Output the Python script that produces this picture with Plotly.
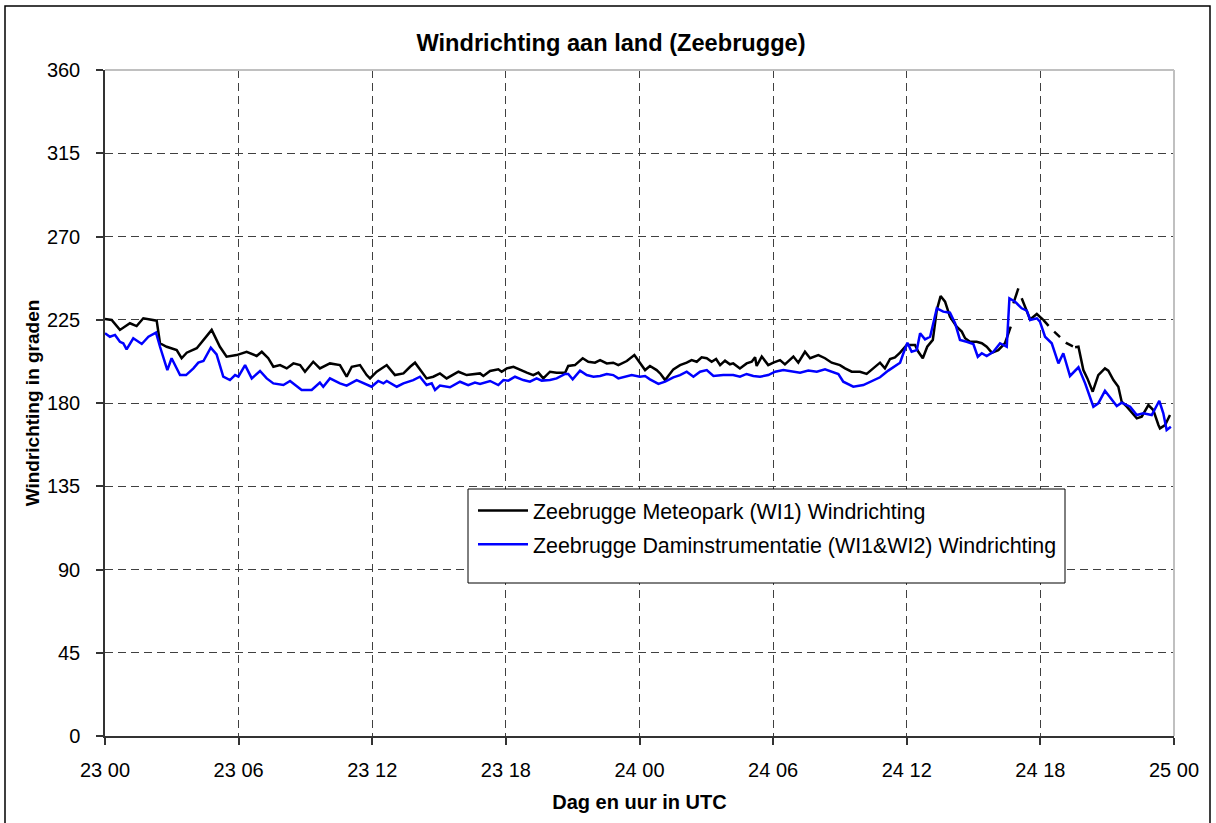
import plotly.graph_objects as go

# ---------------- data ----------------
x_tickvals = [0, 6, 12, 18, 24, 30, 36, 42, 48]
x_ticktext = ["23 00", "23 06", "23 12", "23 18", "24 00", "24 06", "24 12", "24 18", "25 00"]
y_tickvals = [0, 45, 90, 135, 180, 225, 270, 315, 360]

# hours since 23 00 UTC
meteopark_h = [0, 0.30, 0.67, 1.12, 1.42, 1.72, 2.32, 2.47, 2.77, 3.22,
               3.44, 3.67, 4.12, 4.42, 4.79, 5.16, 5.46, 5.91, 6.36, 6.81,
               7.04, 7.33, 7.56, 7.86, 8.16, 8.46, 8.76, 8.98, 9.35, 9.65,
               10.10, 10.55, 10.85, 11.08, 11.45, 11.75, 11.90, 12.20, 12.65, 13.02,
               13.40, 13.70, 13.92, 14.44, 14.74, 15.04, 15.34, 15.87, 16.24, 16.84,
               16.99, 17.29, 17.66, 17.81, 18.04, 18.34, 18.71, 18.94, 19.23, 19.46,
               19.68, 19.98, 20.28, 20.66, 20.80, 21.10, 21.45, 21.70, 22.00, 22.23,
               22.53, 22.82, 23.05, 23.43, 23.77, 24.02, 24.25, 24.47, 24.77, 24.95,
               25.15, 25.52, 25.82, 26.12, 26.34, 26.57, 26.79, 27.02, 27.24, 27.44,
               27.62, 27.84, 28.06, 28.21, 28.51, 28.81, 29.04, 29.19, 29.26, 29.49,
               29.78, 30.01, 30.31, 30.53, 30.76, 30.91, 31.13, 31.43, 31.66, 32.03,
               32.33, 32.63, 33.00, 33.23, 33.53, 33.90, 34.20, 34.50, 34.80, 35.02,
               35.25, 35.47, 35.70, 36.00, 36.37, 36.52, 36.72, 36.92, 37.17, 37.35,
               37.52, 37.72, 37.94, 38.24, 38.47, 38.62, 38.84, 39.14, 39.37, 39.59,
               39.82, 40.11, 40.41, 40.67, None, 40.79, 41.01, None, 41.16, 41.31,
               41.54, 41.84, 42.13, None, 43.56, 43.71, 43.93, 44.11, 44.35, 44.60,
               44.90, 45.05, 45.28, 45.50, 45.65, 45.88, 46.33, 46.55, 46.85, 47.07,
               47.30, 47.37, 47.60, 47.82]
meteopark_deg = [225.4, 224.9, 219.5, 223.1, 221.6, 225.8, 224.5, 212.3, 210.4, 208.6,
                 204.2, 207.2, 209.6, 214.1, 219.5, 210.4, 205.0, 205.9, 207.7, 205.4,
                 207.7, 204.2, 199.6, 200.5, 198.7, 201.4, 200.5, 196.9, 202.3, 198.7,
                 201.4, 200.5, 194.2, 199.6, 200.5, 195.1, 193.3, 196.9, 200.5, 195.1,
                 196.0, 199.6, 201.8, 193.3, 194.2, 196.0, 193.3, 196.9, 195.1, 196.0,
                 194.6, 197.3, 198.2, 196.9, 198.7, 199.6, 197.5, 196.4, 195.1, 196.4,
                 193.3, 196.9, 196.4, 196.4, 200.0, 200.5, 204.2, 202.3, 201.8, 203.2,
                 201.4, 201.8, 200.5, 202.7, 205.9, 201.4, 197.8, 200.0, 197.8, 195.7,
                 192.4, 198.2, 200.5, 201.8, 203.2, 202.3, 204.7, 204.2, 202.3, 203.8,
                 200.5, 202.9, 200.9, 201.4, 198.7, 201.4, 202.3, 204.7, 200.0, 205.1,
                 200.5, 201.8, 203.2, 200.9, 203.2, 205.1, 201.8, 207.7, 204.2, 205.9,
                 204.2, 201.8, 200.5, 198.7, 196.9, 196.9, 195.7, 198.7, 201.8, 198.7,
                 203.8, 204.7, 207.2, 211.4, 211.4, 207.7, 204.2, 210.4, 214.1, 230.3,
                 237.8, 234.8, 226.7, 221.3, 218.6, 215.0, 213.1, 213.1, 212.3, 210.4,
                 207.2, 208.6, 212.3, 221.3, None, 233.9, 242.0, None, 236.6, 232.1,
                 225.2, 228.1, 224.9, None, 210.1, 210.4, 197.8, 193.3, 186.1, 195.1,
                 198.7, 197.5, 192.4, 188.8, 180.7, 178.0, 171.7, 172.6, 178.9, 176.2,
                 168.1, 166.3, 168.1, 173.5]

# stretch of the Meteopark series drawn dashed (24 18 - 24 20)
meteopark_dash_h = [42.13, 42.51, 43.18, 43.56]
meteopark_dash_deg = [224.9, 219.8, 212.3, 210.1]

dam_h = [0, 0.22, 0.45, 0.67, 0.82, 0.97, 1.27, 1.65, 1.95, 2.10,
         2.29, 2.47, 2.80, 2.99, 3.37, 3.64, 3.97, 4.19, 4.42, 4.75,
         5.01, 5.31, 5.61, 5.84, 5.99, 6.29, 6.59, 6.96, 7.26, 7.56,
         8.01, 8.31, 8.83, 9.28, 9.65, 9.80, 10.10, 10.55, 10.85, 11.30,
         11.60, 11.97, 12.27, 12.50, 12.65, 13.10, 13.40, 13.84, 14.14, 14.44,
         14.67, 14.82, 15.04, 15.49, 15.94, 16.31, 16.61, 16.84, 17.29, 17.66,
         17.89, 18.11, 18.41, 18.78, 19.08, 19.38, 19.61, 19.98, 20.28, 20.66,
         20.80, 21.00, 21.33, 21.63, 21.93, 22.23, 22.53, 22.82, 23.05, 23.43,
         23.65, 24.02, 24.25, 24.47, 24.85, 25.15, 25.52, 25.82, 26.12, 26.42,
         26.72, 27.02, 27.32, 27.76, 28.21, 28.51, 28.81, 29.11, 29.41, 29.78,
         30.09, 30.46, 30.83, 31.21, 31.58, 31.96, 32.33, 32.63, 32.93, 33.15,
         33.60, 34.05, 34.35, 34.80, 35.17, 35.47, 35.70, 35.85, 36.03, 36.22,
         36.45, 36.60, 36.82, 37.05, 37.35, 37.64, 37.94, 38.17, 38.39, 38.69,
         38.99, 39.19, 39.37, 39.59, 39.89, 40.19, 40.49, 40.61, 40.86, 41.16,
         41.39, 41.54, 41.84, 41.98, 42.21, 42.51, 42.81, 43.03, 43.33, 43.71,
         44.01, 44.38, 44.60, 44.90, 45.20, 45.43, 45.65, 46.03, 46.33, 46.62,
         47.00, 47.15, 47.34, 47.52, 47.67, 47.86]
dam_deg = [217.7, 215.8, 216.8, 213.1, 212.3, 209.0, 215.0, 211.9, 215.8, 216.8,
           218.0, 210.4, 197.8, 204.2, 195.1, 195.1, 198.7, 201.8, 202.7, 209.9,
           206.3, 194.2, 192.4, 195.1, 194.2, 200.5, 193.3, 197.3, 193.3, 190.6,
           189.7, 191.9, 187.0, 187.0, 191.0, 188.8, 193.3, 190.6, 189.4, 192.4,
           190.6, 188.8, 191.9, 190.6, 191.9, 188.8, 190.6, 192.4, 194.2, 189.7,
           190.6, 187.0, 189.4, 188.5, 191.5, 189.7, 191.0, 190.3, 191.9, 189.7,
           192.4, 192.1, 194.2, 192.4, 191.5, 193.3, 192.1, 192.4, 193.3, 195.7,
           195.7, 192.8, 197.5, 195.1, 194.2, 194.6, 195.7, 195.1, 193.3, 194.2,
           195.1, 194.2, 194.6, 192.8, 190.3, 191.5, 193.9, 195.1, 196.9, 194.2,
           196.9, 197.8, 194.6, 195.1, 195.1, 194.2, 195.7, 194.6, 194.2, 195.1,
           196.9, 197.8, 197.3, 196.4, 197.5, 196.9, 198.2, 196.9, 195.7, 191.5,
           188.8, 189.7, 191.5, 193.9, 197.5, 200.0, 201.8, 206.9, 212.6, 207.7,
           208.6, 217.7, 214.4, 215.8, 231.2, 229.4, 228.8, 223.1, 214.1, 213.1,
           211.9, 205.0, 206.9, 205.4, 207.7, 212.3, 210.4, 236.6, 234.8, 231.2,
           229.9, 224.9, 225.8, 224.0, 215.8, 212.3, 201.4, 206.9, 194.6, 199.3,
           190.6, 178.0, 179.8, 186.6, 181.6, 178.4, 180.2, 178.0, 173.5, 174.4,
           173.5, 177.1, 181.2, 174.4, 165.4, 167.2]

name_meteo = "Zeebrugge Meteopark (WI1) Windrichting"
name_dam = "Zeebrugge Daminstrumentatie (WI1&WI2) Windrichting"

# ---------------- layout geometry (pixels) ----------------
W, H = 1216, 823
L, R, T, B = 105, 1174, 70, 736
PW, PH = R - L, B - T


def px(x):
    return (x - L) / PW


def py(y):
    return (B - y) / PH


FONT = "Liberation Sans, Arial, sans-serif"
GRID = "#404040"

fig = go.Figure()
fig.add_trace(go.Scatter(x=meteopark_h, y=meteopark_deg, mode="lines", name=name_meteo,
                         line=dict(color="#000000", width=2.5), connectgaps=False,
                         legendgroup="a"))
fig.add_trace(go.Scatter(x=meteopark_dash_h, y=meteopark_dash_deg, mode="lines",
                         line=dict(color="#000000", width=2.5, dash="8px,8px"),
                         showlegend=False, legendgroup="a", hoverinfo="skip"))
fig.add_trace(go.Scatter(x=dam_h, y=dam_deg, mode="lines", name=name_dam,
                         line=dict(color="#0000FF", width=2.5), legendgroup="b"))

shapes = [
    # outer chart frame
    dict(type="rect", xref="paper", yref="paper", x0=px(5), x1=px(1210), y0=py(830), y1=py(6),
         line=dict(color="#000000", width=1.5), fillcolor="rgba(0,0,0,0)", layer="below"),
    # top and right plot-area border (light grey)
    dict(type="line", xref="paper", yref="paper", x0=0, x1=1, y0=1, y1=1,
         line=dict(color="#C0C0C0", width=2), layer="above"),
    dict(type="line", xref="paper", yref="paper", x0=1, x1=1, y0=0, y1=1,
         line=dict(color="#C0C0C0", width=2), layer="above"),
    # legend box
    dict(type="rect", xref="paper", yref="paper", x0=px(468), x1=px(1065), y0=py(583), y1=py(489),
         line=dict(color="#000000", width=1), fillcolor="#FFFFFF", layer="above"),
]

fig.update_layout(
    width=W, height=H,
    margin=dict(l=L, r=W - R, t=T, b=H - B, pad=0),
    paper_bgcolor="#FFFFFF", plot_bgcolor="#FFFFFF",
    font=dict(family=FONT, size=20, color="#000000"),
    title=dict(text="Windrichting aan land (Zeebrugge)", xref="container", x=611 / W,
               xanchor="center", yref="container", y=1 - 42.5 / H, yanchor="middle",
               font=dict(family=FONT, size=23.6, color="#000000", weight="bold")),
    showlegend=True,
    legend=dict(x=px(473), y=py(490), xanchor="left", yanchor="top",
                bgcolor="rgba(0,0,0,0)", borderwidth=0, tracegroupgap=3,
                itemwidth=50, font=dict(family=FONT, size=21.4, color="#000000")),
    shapes=shapes,
    xaxis=dict(range=[0, 48], tickmode="array", tickvals=x_tickvals, ticktext=x_ticktext,
               showgrid=True, gridcolor=GRID, gridwidth=1, griddash="8px,5px",
               showline=True, linecolor="#333333", linewidth=1.5,
               ticks="outside", ticklen=7, tickcolor="#333333", tickwidth=1.5,
               zeroline=False, ticklabelstandoff=8,
               title=dict(text="Dag en uur in UTC", standoff=15,
                          font=dict(family=FONT, size=20, weight="bold"))),
    yaxis=dict(range=[0, 360], tickmode="array", tickvals=y_tickvals,
               showgrid=True, gridcolor=GRID, gridwidth=1, griddash="8px,5px",
               showline=True, linecolor="#333333", linewidth=1.5,
               ticks="outside", ticklen=7, tickcolor="#333333", tickwidth=1.5,
               zeroline=False, ticklabelstandoff=12,
               title=dict(text="Windrichting in graden", standoff=2,
                          font=dict(family=FONT, size=19, weight="bold"))),
)

fig.write_html("out.html", config={"displayModeBar": False},
               post_script="document.body.style.margin='0';document.body.style.overflow='hidden';")
